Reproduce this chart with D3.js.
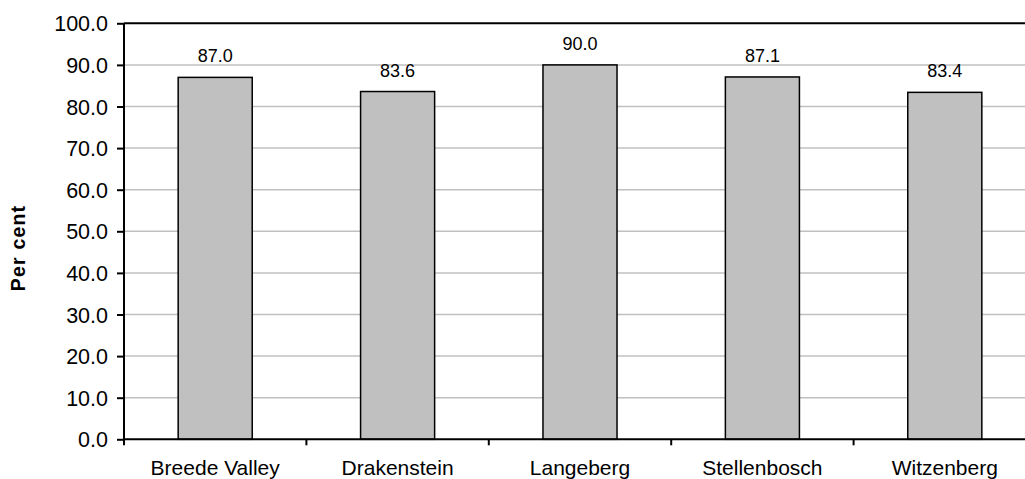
<!DOCTYPE html>
<html lang="en">
<head>
    <meta charset="UTF-8">
    <title>Per cent by municipality</title>
    <style>
        body { margin: 0; background: #fff; }
        text { font-family: "Liberation Sans", Arial, sans-serif; fill: #000; }
        .grid line { stroke: #c0c0c0; stroke-width: 1.5px; }
        .bar { fill: #c0c0c0; stroke: #000; stroke-width: 1.5px; }
    </style>
    <script src="https://d3js.org/d3.v7.min.js"></script>
</head>
<body>
    <svg width="1025" height="479"></svg>
    <script>
        // Data
        const categories = ["Breede Valley", "Drakenstein", "Langeberg", "Stellenbosch", "Witzenberg"];
        const values = [87.0, 83.6, 90.0, 87.1, 83.4];
        const yTicks = [0, 10, 20, 30, 40, 50, 60, 70, 80, 90, 100];

        const margin = { top: 23.3, left: 124 };
        const plotH = 416;
        const plotW = 912;   // plot runs past the right edge of the window

        const svg = d3.select("svg");
        const g = svg.append("g").attr("transform", `translate(${margin.left},${margin.top})`);

        const x = d3.scaleBand()
            .domain(categories)
            .range([0, plotW])
            .paddingInner(0.594)
            .paddingOuter(0.297);

        const y = d3.scaleLinear()
            .domain([0, 100])
            .range([plotH, 0]);

        // Gridlines
        g.append("g")
            .attr("class", "grid")
            .selectAll("line")
            .data(yTicks.filter(d => d > 0 && d < 100))
            .enter().append("line")
            .attr("x1", 0)
            .attr("x2", plotW)
            .attr("y1", d => y(d))
            .attr("y2", d => y(d));

        // Top border line
        g.append("line")
            .attr("x1", 0).attr("x2", plotW)
            .attr("y1", y(100)).attr("y2", y(100))
            .attr("stroke", "#000").attr("stroke-width", 2);

        // Bars
        g.selectAll("rect.bar")
            .data(values)
            .enter().append("rect")
            .attr("class", "bar")
            .attr("x", (d, i) => x(categories[i]))
            .attr("width", x.bandwidth())
            .attr("y", d => y(d))
            .attr("height", d => y(0) - y(d));

        // Value labels
        g.selectAll("text.val")
            .data(values)
            .enter().append("text")
            .attr("class", "val")
            .attr("x", (d, i) => x(categories[i]) + x.bandwidth() / 2)
            .attr("y", d => y(d) - 15)
            .attr("text-anchor", "middle")
            .style("font-size", "18px")
            .text(d => d.toFixed(1));

        // Y axis
        const yAxis = g.append("g")
            .call(d3.axisLeft(y).tickValues(yTicks).tickSize(7).tickPadding(9).tickFormat(d3.format(".1f")));
        yAxis.select(".domain").attr("stroke-width", 2).attr("d", `M0,${plotH}V0`);
        yAxis.selectAll(".tick line").attr("stroke-width", 2);
        yAxis.selectAll(".tick text")
            .style("font-size", "21.5px")
            .style("font-family", "'Liberation Sans', Arial, sans-serif")
            .attr("dy", "0.35em");

        // X axis: ticks at band boundaries
        const xAxis = g.append("g").attr("transform", `translate(0,${plotH})`);
        xAxis.append("line")
            .attr("x1", 0).attr("x2", plotW)
            .attr("stroke", "#000").attr("stroke-width", 2);
        const step = x.step();
        xAxis.selectAll("line.tick")
            .data(d3.range(categories.length + 1))
            .enter().append("line")
            .attr("class", "tick")
            .attr("x1", d => d * step).attr("x2", d => d * step)
            .attr("y1", 0).attr("y2", 6)
            .attr("stroke", "#000").attr("stroke-width", 2);
        xAxis.selectAll("text")
            .data(categories)
            .enter().append("text")
            .attr("x", d => x(d) + x.bandwidth() / 2)
            .attr("y", 36)
            .attr("text-anchor", "middle")
            .style("font-size", "21px")
            .text(d => d);

        // Y axis title
        svg.append("text")
            .attr("transform", "translate(25,248) rotate(-90)")
            .attr("text-anchor", "middle")
            .style("font-size", "19.5px")
            .style("font-weight", "bold")
            .style("letter-spacing", "1.2px")
            .text("Per cent");
    </script>
</body>
</html>
